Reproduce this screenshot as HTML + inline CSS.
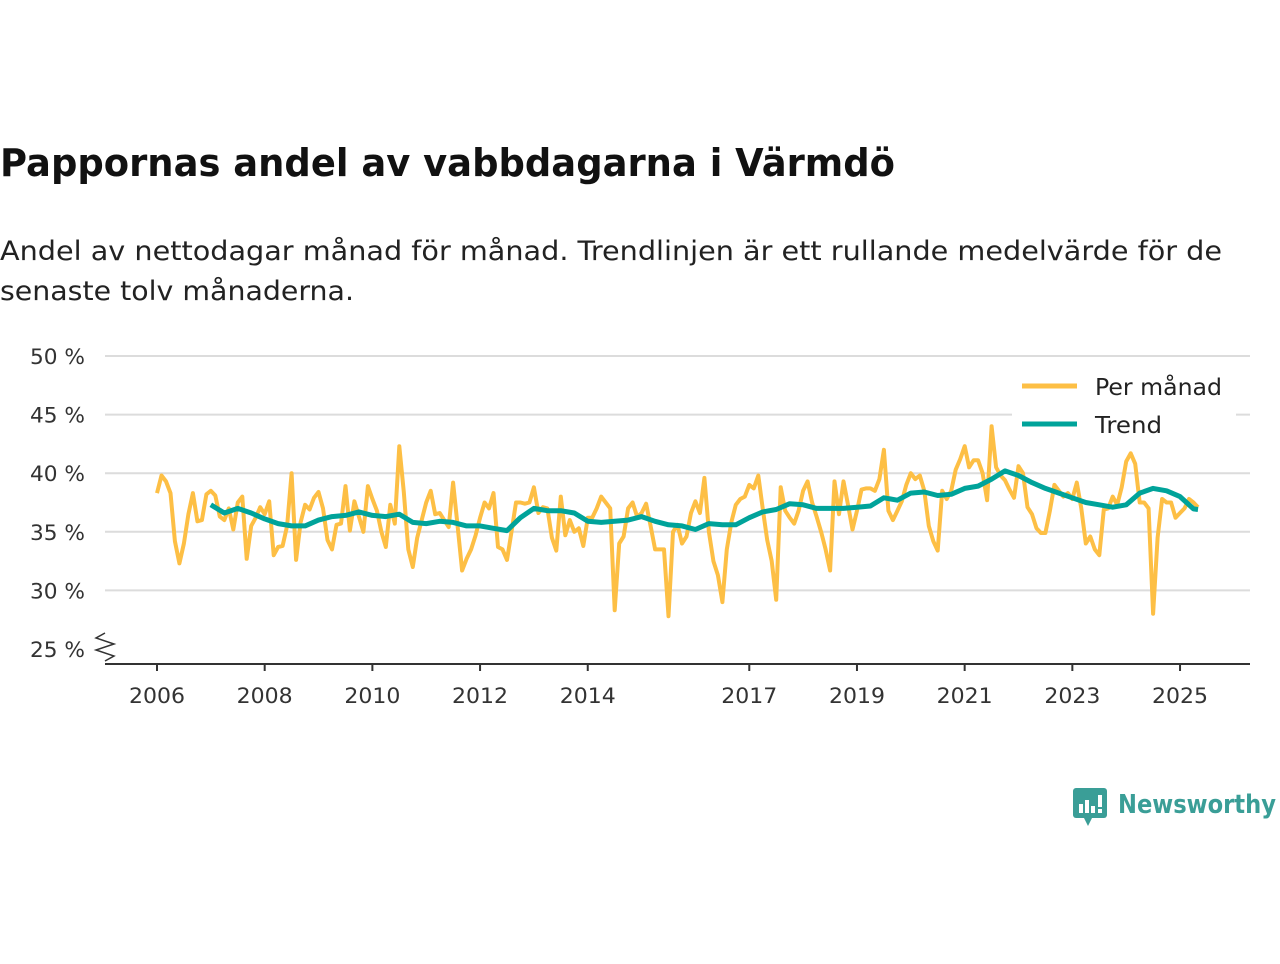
<!DOCTYPE html>
<html><head><meta charset="utf-8"><style>
body{margin:0;background:#fff;width:1280px;height:960px;overflow:hidden;font-family:"DejaVu Sans","Liberation Sans",sans-serif}
svg text{font-family:"DejaVu Sans","Liberation Sans",sans-serif}
</style></head><body>
<svg id="chart" width="1280" height="960">
<text x="0" y="176" font-size="38" font-weight="bold" fill="#111" textLength="895" lengthAdjust="spacingAndGlyphs">Pappornas andel av vabbdagarna i Värmdö</text>
<text x="0" y="260" font-size="27" fill="#222" textLength="1222" lengthAdjust="spacingAndGlyphs">Andel av nettodagar månad för månad. Trendlinjen är ett rullande medelvärde för de</text>
<text x="0" y="300" font-size="27" fill="#222" textLength="354" lengthAdjust="spacingAndGlyphs">senaste tolv månaderna.</text>
<g id="grid"></g><g id="axes"></g><g id="series"></g>
<g>
<rect x="1012" y="366" width="224" height="76" fill="#fff"/>
<line x1="1022" y1="386" x2="1077" y2="386" stroke="#fdbf45" stroke-width="5"/>
<text x="1095" y="395" font-size="23" fill="#222" textLength="127" lengthAdjust="spacingAndGlyphs">Per månad</text>
<line x1="1022" y1="424" x2="1077" y2="424" stroke="#00a39a" stroke-width="5"/>
<text x="1095" y="433" font-size="23" fill="#222" textLength="67" lengthAdjust="spacingAndGlyphs">Trend</text>
</g>
<g>
<rect x="1073" y="788" width="34" height="30" rx="3" fill="#3a9e97"/>
<polygon points="1084,818 1092,818 1088,826" fill="#3a9e97"/>
<rect x="1079" y="804" width="4" height="9" fill="#fff"/><rect x="1085" y="800" width="4" height="13" fill="#fff"/><rect x="1091" y="806" width="4" height="7" fill="#fff"/><rect x="1098" y="795" width="4" height="12" fill="#fff"/><rect x="1098" y="809" width="4" height="4" fill="#fff"/>
<text x="1118" y="813" font-size="26" font-weight="bold" fill="#3a9e97" textLength="158" lengthAdjust="spacingAndGlyphs">Newsworthy</text>
</g>
</svg>
<script>
const yTicks=[25,30,35,40,45,50];
const yearLabels=[2006,2008,2010,2012,2014,2017,2019,2021,2023,2025];
const startYear=2006;
const monthly=[38.3,39.8,39.3,38.3,34.2,32.3,34,36.5,38.3,35.9,36,38.2,
38.5,38.1,36.3,36,37,35.2,37.5,38,32.7,35.5,36.2,37.1,
36.5,37.6,33,33.7,33.8,35.5,40,32.6,35.8,37.3,36.9,37.9,
38.4,37,34.3,33.5,35.6,35.7,38.9,35.1,37.6,36.3,35,38.9,
37.8,36.8,35,33.7,37.3,35.7,42.3,38.4,33.5,32,34.5,36,
37.5,38.5,36.5,36.6,36,35.4,39.2,35.5,31.7,32.7,33.5,34.7,
36.2,37.5,37,38.3,33.7,33.5,32.6,35,37.5,37.5,37.4,37.5,
38.8,36.6,37.1,37,34.5,33.4,38,34.7,36,35,35.3,33.8,
36.2,36.2,37,38,37.5,37,28.3,34,34.6,37,37.5,36.3,
36.6,37.4,35.5,33.5,33.5,33.5,27.8,35,35.6,34,34.6,36.6,
37.6,36.6,39.6,35,32.5,31.3,29,33.5,35.8,37.3,37.8,38,
39,38.7,39.8,37,34.3,32.5,29.2,38.8,36.8,36.2,35.7,36.8,
38.5,39.3,37.5,36.3,35,33.5,31.7,39.3,36.5,39.3,37.3,35.2,
36.8,38.6,38.7,38.7,38.5,39.5,42,36.8,36,36.8,37.6,39,
40,39.5,39.8,38.5,35.5,34.2,33.4,38.5,37.8,38.5,40.3,41.2,
42.3,40.5,41.1,41.1,40,37.7,44,40.5,39.8,39.4,38.6,37.9,
40.6,40,37.1,36.5,35.3,34.9,34.9,36.8,39,38.5,38,38.3,
37.8,39.2,37,34,34.6,33.5,33,36.9,37,38,37.3,38.8,
41,41.7,40.8,37.5,37.5,37,28,34.5,37.8,37.5,37.5,36.2,
36.6,37,37.8,37.5,37.1];
const trendStart=12, trendStep=3;
const trend=[37.3,36.6,37,36.6,36.1,35.7,35.5,35.5,36,36.3,36.4,36.7,36.4,36.3,36.5,35.8,35.7,35.9,35.8,35.5,35.5,35.3,35.1,36.2,37,36.8,36.8,36.6,35.9,35.8,35.9,36,36.3,35.9,35.6,35.5,35.2,35.7,35.6,35.6,36.2,36.7,36.9,37.4,37.3,37,37,37,37.1,37.2,37.9,37.7,38.3,38.4,38.1,38.2,38.7,38.9,39.5,40.2,39.8,39.2,38.7,38.3,37.9,37.5,37.3,37.1,37.3,38.3,38.7,38.5,38.0,36.95];
const trendLast=36.9;
const NS="http://www.w3.org/2000/svg";
function xM(i){return 157+i*4.487;}
function xY(y){return xM((y-startYear)*12);}
function yV(v){return 356+(50-v)*11.72;}
const grid=document.getElementById('grid'),axes=document.getElementById('axes'),series=document.getElementById('series');
function mk(tag,attrs,parent){const e=document.createElementNS(NS,tag);for(const k in attrs)e.setAttribute(k,attrs[k]);parent.appendChild(e);return e;}
yTicks.forEach(v=>{
 if(v>25){const l=mk('line',{x1:105,x2:1250,y1:yV(v),y2:yV(v),stroke:'#dcdcdc','stroke-width':2},grid);
 
 }
 const t=mk('text',{x:85,y:yV(v)+8,'text-anchor':'end','font-size':21,fill:'#333',textLength:55,lengthAdjust:'spacingAndGlyphs'},axes);
 t.textContent=v+' %';
 
 
});
const brk=mk('path',{d:'M105,633 L96,638 L114,644 L96,650 L114,656 L105,661',fill:'none',stroke:'#333','stroke-width':1.5},axes);


const ax=mk('line',{x1:105,x2:1250,y1:664,y2:664,stroke:'#333','stroke-width':2},axes);


yearLabels.forEach(y=>{
 const x=xY(y);
 const tk=mk('line',{x1:x,x2:x,y1:664,y2:671,stroke:'#333','stroke-width':2},axes);
 
 
 const t=mk('text',{x:x,y:703,'text-anchor':'middle','font-size':21,fill:'#333',textLength:56,lengthAdjust:'spacingAndGlyphs'},axes);
 t.textContent=y;
 
 
});
const mp=mk('polyline',{points:monthly.map((v,i)=>xM(i).toFixed(1)+','+yV(v).toFixed(1)).join(' '),fill:'none',stroke:'#fdbf45','stroke-width':4,'stroke-linejoin':'round'},series);


const tpts=trend.map((v,i)=>xM(trendStart+i*trendStep).toFixed(1)+','+yV(v).toFixed(1));
tpts.push(xM(monthly.length-1).toFixed(1)+','+yV(trendLast).toFixed(1));
const tp=mk('polyline',{points:tpts.join(' '),fill:'none',stroke:'#00a39a','stroke-width':5,'stroke-linejoin':'round'},series);


</script>
</body></html>
